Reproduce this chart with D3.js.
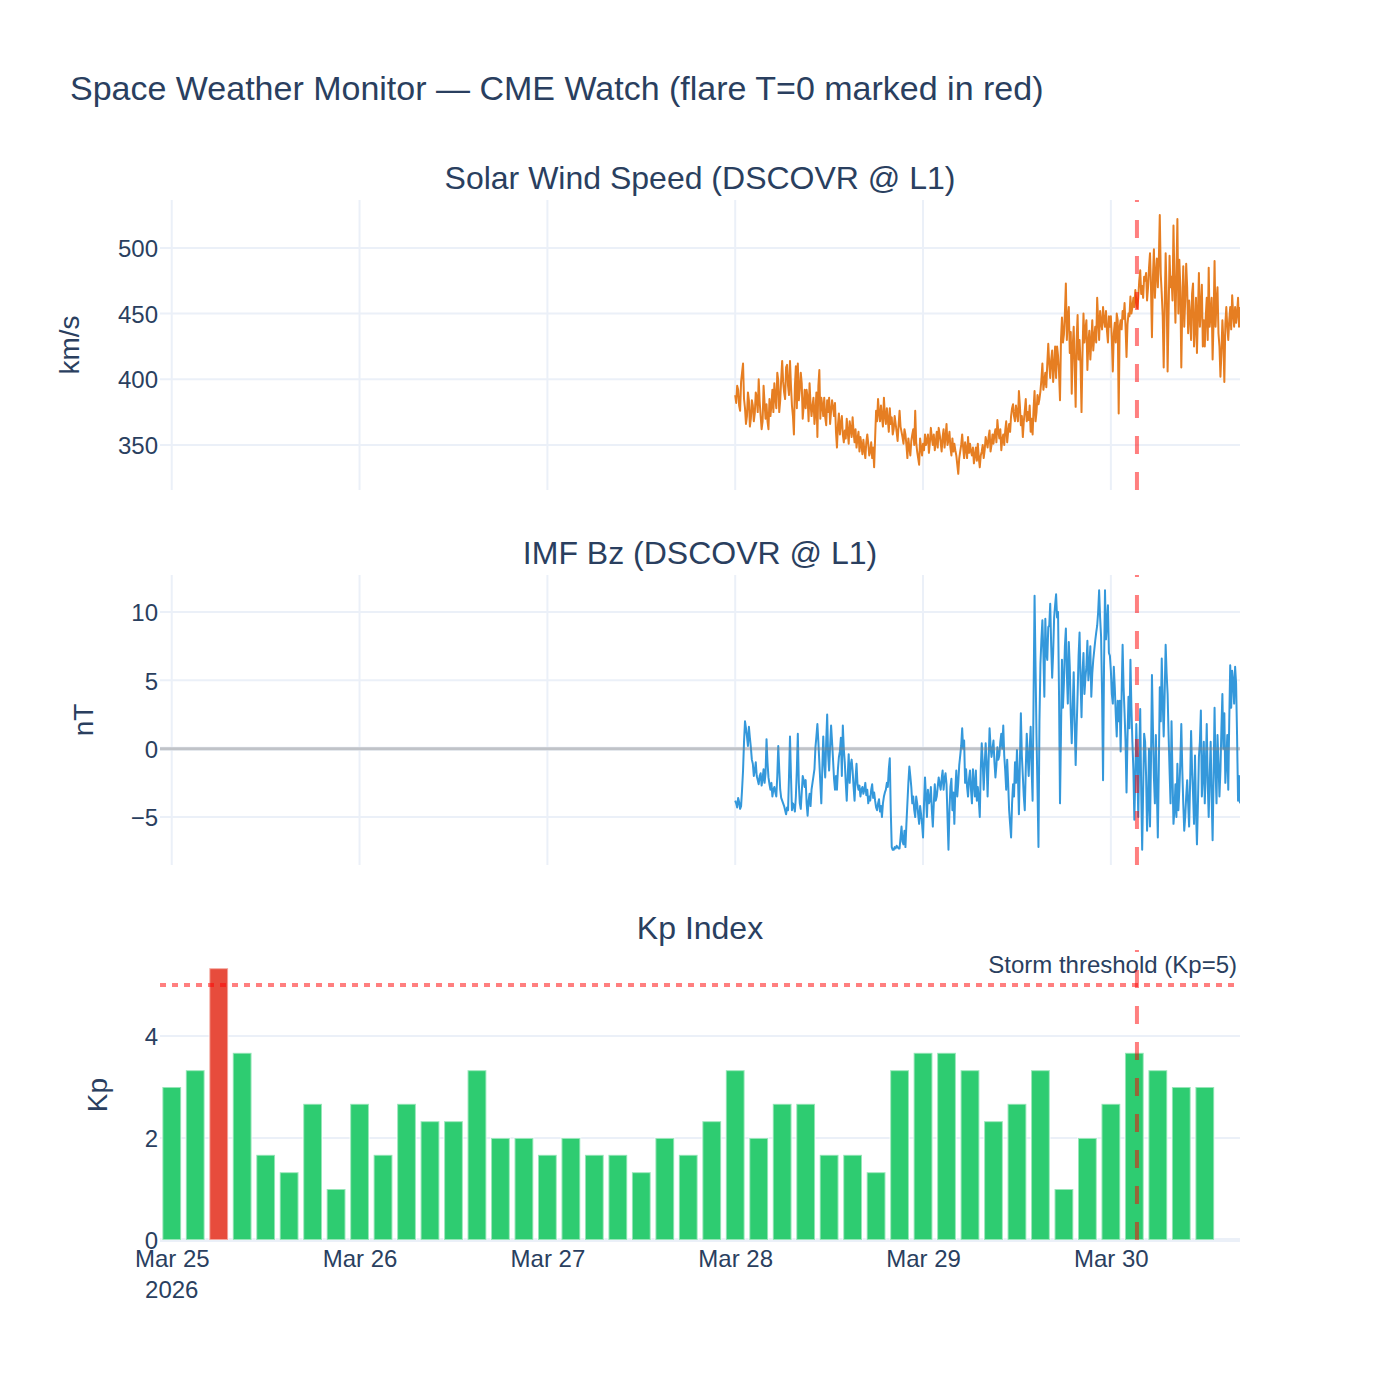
<!DOCTYPE html>
<html><head><meta charset="utf-8">
<script src="https://cdn.jsdelivr.net/npm/d3@7"></script>
<style>
body{margin:0;background:#fff}
text{font-family:"Liberation Sans",Arial,sans-serif;fill:#2a3f5f}
</style>
</head><body>
<svg id="chart" width="1400" height="1400"></svg>
<script>
// ---------------- DATA ----------------
const chartTitle = "Space Weather Monitor — CME Watch (flare T=0 marked in red)";
const panelTitles = ["Solar Wind Speed (DSCOVR @ L1)", "IMF Bz (DSCOVR @ L1)", "Kp Index"];
const axisTitles = ["km/s", "nT", "Kp"];
const xDomain = ["2026-03-24T22:30:00Z", "2026-03-30T16:30:00Z"];
const dayTicks = ["2026-03-25", "2026-03-26", "2026-03-27", "2026-03-28", "2026-03-29", "2026-03-30"];
const dayTickLabels = ["Mar 25", "Mar 26", "Mar 27", "Mar 28", "Mar 29", "Mar 30"];
const yearLabel = "2026";
const flareTime = "2026-03-30T03:20:00Z";
const stormThreshold = 5;
const stormLabel = "Storm threshold (Kp=5)";

const speedTicks = [350, 400, 450, 500];
const bzTicks = [-5, 0, 5, 10];
const kpTicks = [0, 2, 4];
const speedRange = [315.7, 536.5];
const bzRange = [-8.51, 12.71];
const kpRange = [0, 5.686];

// L1 series: samples every 15 minutes starting Mar 28 00:00 UTC,
// plus the readings taken half-way (7.5 min later) between them
const l1Start = "2026-03-28T00:00:00Z";
const l1StepMinutes = 15;
const windSpeed = [
388,395,380,398, 412,378,372,384, 370,380,374,386, 400,372,368,382,
381,362,372,392, 397,378,399,384, 414,390,409,395, 414,380,358,410,
412,392,397,380, 378,386,397,372, 386,375,356,407, 386,372,371,384,
386,376,379,382, 348,374,366,358, 361,370,351,362, 371,352,348,360,
356,343,346,352, 351,345,340,333, 376,385,368,371, 386,366,369,378,
371,362,366,353, 376,360,351,358, 340,348,353,362, 376,345,335,348,
351,358,353,344, 363,350,346,360, 363,352,356,348, 366,354,348,355,
351,342,328,345, 358,340,347,356, 351,342,336,348, 351,333,345,340,
356,348,361,350, 351,362,369,355, 346,358,361,352, 366,372,381,368,
374,391,365,356, 376,368,369,360, 358,391,375,381, 391,412,398,394,
427,401,422,410, 401,418,384,447, 434,473,447,420, 389,440,379,449,
430,375,450,438, 407,437,428,422, 440,462,430,443, 455,440,437,448,
448,406,443,450, 374,445,452,458, 417,450,463,455, 455,460,462,483,
471,478,481,470, 496,432,499,480, 470,525,465,409, 496,406,494,478,
517,443,522,491, 409,486,460,470, 460,430,473,440, 420,481,455,425,
425,462,485,450, 415,490,460,435, 402,445,398,455, 430,455,464,440,
443,462,455
];
const windSpeedMid = [
382,392,376,405, 385,366,390,364, 384,368,390,375, 383,362,395,370,
368,385,380,375, 386,405,375,400, 398,385,411,388, 395,372,395,378,
384,405,370,392, 392,368,381,380, 366,390,395,370, 380,386,365,375,
366,384,372,360, 365,358,372,352, 355,360,368,356, 360,362,355,345,
350,354,340,358, 342,352,348,355, 368,374,380,364, 372,378,360,366,
358,372,360,365, 364,356,362,350, 355,342,358,350, 352,340,355,342,
346,350,358,352, 355,358,352,348, 358,345,362,356, 350,360,342,345,
346,335,340,350, 348,352,340,344, 345,348,342,338, 340,342,350,346,
352,356,345,358, 358,352,360,362, 354,350,368,360, 360,378,372,380,
368,380,372,368, 385,375,380,370, 378,368,388,385, 400,392,405,412,
412,415,398,425, 425,405,430,428, 450,430,455,436, 425,410,430,415,
412,420,428,445, 428,415,445,432, 428,445,452,438, 445,452,428,440,
430,435,428,445, 440,438,446,440, 442,448,450,462, 468,454,475,465,
462,475,460,485, 470,478,462,492, 490,480,448,455, 465,450,470,460,
475,480,450,470, 455,440,488,435, 448,465,425,462, 450,440,472,445,
448,430,440,462, 445,440,470,425, 420,430,442,440, 445,438,450,455,
450,440
];
const bzValues = [
-3.8,-4.3,-3.9,-4.2, -1.6,2.0,0.9,1.6, 0.1,-1.1,-1.6,-2.0, -2.6,-1.8,-2.2,-2.5,
0.7,-2.1,-3.0,-3.5, -2.8,-3.5,0.2,-3.0, -3.8,-4.2,-4.8,-4.5, 0.9,-4.5,-4.2,-3.5,
1.1,-4.0,-3.2,-2.3, -2.3,-4.9,-3.3,-3.0, -2.0,0.1,1.8,-1.0, -4.0,0.9,-2.1,2.5,
-1.6,1.7,-0.8,-3.0, -3.0,-0.6,0.8,1.7, -1.0,-3.8,-0.4,-1.2, -1.6,-3.8,-1.1,-3.0,
-3.5,-2.8,-3.0,-3.4, -4.0,-3.8,-2.6,-3.2, -4.3,-4.0,-4.6,-5.0, -3.5,-3.0,-2.8,-0.7,
-7.2,-7.4,-7.3,-7.2, -7.3,-5.7,-7.0,-7.2, -4.0,-1.3,-2.8,-3.5, -5.0,-4.0,-5.5,-4.8,
-6.5,-2.1,-5.0,-4.0, -2.8,-5.7,-2.6,-3.5, -2.1,-3.0,-1.6,-2.2, -2.6,-7.4,-2.8,-4.5,
-5.5,-1.6,-2.5,-0.5, 1.5,0.6,-1.5,-3.5, -1.6,-4.0,-2.5,-1.6, -2.8,-5.0,0.4,-3.0,
0.4,-3.5,1.5,-0.6, 0.6,-2.1,0.1,-0.5, 1.1,1.7,-1.6,-0.8, -4.5,-6.5,-2.6,-1.0,
-0.1,-4.8,2.6,-2.0, -4.5,1.1,-2.0,1.6, -3.8,11.2,0.9,-7.2, 6.2,9.4,3.8,7.0,
8.9,10.6,5.2,9.6, 11.3,10.0,-4.0,6.5, 4.8,8.8,3.3,6.0, 0.4,5.6,-1.2,4.0,
8.5,2.3,7.0,5.2, 7.9,6.0,3.8,6.5, 7.9,9.0,11.6,8.2, -2.3,11.6,9.1,7.0,
5.7,3.3,4.5,0.9, 2.0,-0.2,7.6,2.6, -3.2,3.8,6.5,0.5, -5.2,1.8,-5.0,2.9,
-7.4,1.1,-2.0,-4.0, -5.7,5.4,-2.1,1.0, -6.5,4.5,6.6,0.9, 7.6,4.0,-1.6,2.0,
-5.5,-2.6,-1.1,-3.0, 1.8,-4.0,-5.0,-2.3, -5.7,1.3,-3.3,-0.5, -7.0,-0.6,2.8,-2.0,
-4.0,1.8,-5.0,0.5, -6.7,3.0,-4.0,-1.0, -1.6,4.0,2.6,-1.0, -3.0,6.1,5.7,3.3,
4.8,-3.8,-4.0
];
const bzValuesMid = [
-4.0,-3.6,-4.4,-3.0, 0.5,1.5,0.2,0.8, -0.8,-2.0,-1.0,-2.3, -2.0,-2.7,-1.5,-1.8,
-1.0,-2.6,-2.5,-3.0, -3.2,-2.0,-1.5,-3.6, -4.0,-4.5,-4.3,-2.0, -2.0,-4.0,-4.6,-1.5,
-2.5,-4.4,-2.0,-2.8, -4.0,-3.8,-4.2,-2.5, -1.5,0.9,0.5,-2.5, -1.5,-1.0,0.5,-0.5,
0.2,0.5,-2.2,-2.0, -1.5,-0.2,-2.0,0.0, -2.5,-2.0,-2.5,-0.8, -2.8,-2.2,-2.6,-2.7,
-3.0,-3.3,-2.5,-3.0, -3.5,-3.0,-3.6,-3.8, -4.5,-3.7,-4.2,-4.0, -3.2,-2.5,-1.5,-4.5,
-7.4,-7.2,-7.1,-7.3, -6.5,-6.8,-6.0,-5.5, -2.5,-2.0,-4.0,-4.5, -3.5,-4.8,-4.2,-5.5,
-4.0,-3.5,-3.0,-3.8, -4.5,-4.0,-3.8,-2.8, -2.6,-2.2,-3.0,-1.8, -5.0,-4.5,-2.2,-3.2,
-3.0,-3.5,-1.2,0.2, 0.0,-2.5,-2.8,-2.2, -3.0,-1.5,-3.5,-3.8, -3.8,-1.5,-1.0,-1.2,
-1.0,-1.0,0.2,0.0, -1.0,-1.2,-0.8,0.5, 0.0,-0.5,-3.0,-2.5, -5.5,-4.0,-3.5,-2.5,
-2.0,-1.0,-0.5,-3.5, -1.5,-0.5,0.0,-1.5, 4.0,6.0,-3.0,2.0, 8.0,7.0,9.5,6.5,
9.0,7.5,7.0,10.5, 9.6,4.0,1.0,3.0, 7.5,5.5,7.8,2.5, 3.0,2.0,1.5,6.8,
5.0,5.5,4.0,6.0, 5.0,7.5,5.5,7.2, 8.5,10.0,9.6,4.0, 6.0,8.0,10.5,6.8,
4.0,6.0,2.5,3.5, 3.5,4.0,4.5,0.5, 0.8,1.5,3.0,-1.5, -2.0,-1.0,-0.5,-3.0,
-3.0,0.5,-6.0,0.0, -1.0,1.5,-4.0,-3.0, -1.5,2.0,3.5,4.0, 5.5,1.0,-4.0,-2.0,
-4.5,-5.0,-4.5,-1.0, -1.5,-6.0,-3.5,-4.0, -2.5,-1.5,-5.5,-4.5, -4.0,0.5,-3.5,0.5,
-1.5,-2.5,-2.0,-3.5, -2.0,-1.5,1.0,-3.5, 1.5,0.0,-2.5,1.0, 2.0,3.0,5.0,6.0,
1.0,-2.0
];

// Kp: 3-hour bins starting Mar 25 00:00 UTC
const kpStart = "2026-03-25T00:00:00Z";
const kpStepHours = 3;
const kpValues = [
3.0,3.33,5.33,3.67,1.67,1.33,2.67,1.0,
2.67,1.67,2.67,2.33,2.33,3.33,2.0,2.0,
1.67,2.0,1.67,1.67,1.33,2.0,1.67,2.33,
3.33,2.0,2.67,2.67,1.67,1.67,1.33,3.33,
3.67,3.67,3.33,2.33,2.67,3.33,1.0,2.0,
2.67,3.67,3.33,3.0,3.0
];

// ---------------- STYLE / LAYOUT ----------------
const W = 1400, H = 1400;
const left = 160, right = 1240;
const panels = [{top:200,bottom:490},{top:575,bottom:865},{top:950,bottom:1240}];
const gridColor = "#EBF0F8";
const flareColor = "rgba(255,0,0,0.5)";

const svg = d3.select("#chart");
svg.append("rect").attr("width",W).attr("height",H).attr("fill","#fff");

const x = d3.scaleUtc().domain(xDomain.map(d=>new Date(d))).range([left,right]);
const yS = d3.scaleLinear().domain(speedRange).range([panels[0].bottom, panels[0].top]);
const yB = d3.scaleLinear().domain(bzRange).range([panels[1].bottom, panels[1].top]);
const yK = d3.scaleLinear().domain(kpRange).range([panels[2].bottom, panels[2].top]);
const yScales = [yS, yB, yK];
const yTickSets = [speedTicks, bzTicks, kpTicks];

const defs = svg.append("defs");
panels.forEach((p,i)=>{
  defs.append("clipPath").attr("id","clip"+i).append("rect")
    .attr("x",left).attr("y",p.top).attr("width",right-left).attr("height",p.bottom-p.top);
});

const t0 = new Date(l1Start).getTime();
const stepMs = l1StepMinutes*60000;
function buildSeries(main, mid){
  const out = [];
  main.forEach((v,i)=>{
    out.push({t:new Date(t0 + i*stepMs), v});
    if (i < mid.length) out.push({t:new Date(t0 + i*stepMs + stepMs/2), v:mid[i]});
  });
  return out;
}
const windSeries = buildSeries(windSpeed, windSpeedMid);
const bzSeries = buildSeries(bzValues, bzValuesMid);
const kt0 = new Date(kpStart).getTime();
const kpData = kpValues.map((v,i)=>({t:new Date(kt0 + i*kpStepHours*3600000), v}));
const dayDates = dayTicks.map(d=>new Date(d+"T00:00:00Z"));

// grids + y tick labels
panels.forEach((p,i)=>{
  const g = svg.append("g");
  if (i < 2) {
    g.selectAll("line.vx").data(dayDates).enter().append("line")
      .attr("x1",d=>x(d)).attr("x2",d=>x(d)).attr("y1",p.top).attr("y2",p.bottom)
      .attr("stroke",gridColor).attr("stroke-width",2);
  }
  const ys = yScales[i];
  g.selectAll("line.hy").data(yTickSets[i]).enter().append("line")
    .attr("x1",left).attr("x2",right).attr("y1",d=>ys(d)).attr("y2",d=>ys(d))
    .attr("stroke",gridColor).attr("stroke-width",d=>d===0?4:2);
  const ax = svg.append("g").attr("transform",`translate(${left-2},0)`)
    .call(d3.axisLeft(ys).tickValues(yTickSets[i]).tickSize(0).tickPadding(0)
      .tickFormat(d=>d<0?"\u2212"+Math.abs(d):String(d)));
  ax.select(".domain").remove();
  ax.selectAll("text").attr("font-size",24).attr("fill","#2a3f5f")
    .style("font-family","'Liberation Sans',Arial,sans-serif").attr("dy","0.36em");
});

// Kp bars
const barW = (x(new Date(kt0+kpStepHours*3600000)) - x(new Date(kt0))) * 0.8;
svg.append("g").attr("clip-path","url(#clip2)").selectAll("rect").data(kpData).enter().append("rect")
  .attr("x",d=>x(d.t)-barW/2).attr("width",barW)
  .attr("y",d=>yK(d.v)).attr("height",d=>yK(0)-yK(d.v))
  .attr("fill",d=>d.v>=stormThreshold?"#e74c3c":"#2ecc71")
  .attr("stroke","rgba(255,255,255,0.5)").attr("stroke-width",2);

// lines
const lineS = d3.line().x(d=>x(d.t)).y(d=>yS(d.v));
svg.append("path").attr("clip-path","url(#clip0)").datum(windSeries).attr("d",lineS)
  .attr("fill","none").attr("stroke","#e67e22").attr("stroke-width",2).attr("stroke-linejoin","round");
const lineB = d3.line().x(d=>x(d.t)).y(d=>yB(d.v));
svg.append("path").attr("clip-path","url(#clip1)").datum(bzSeries).attr("d",lineB)
  .attr("fill","none").attr("stroke","#3498db").attr("stroke-width",2).attr("stroke-linejoin","round");

// Bz zero reference
svg.append("line").attr("x1",left).attr("x2",right).attr("y1",yB(0)).attr("y2",yB(0))
  .attr("stroke","rgba(128,128,128,0.4)").attr("stroke-width",3);

// storm threshold
svg.append("line").attr("x1",left).attr("x2",right).attr("y1",yK(stormThreshold)).attr("y2",yK(stormThreshold))
  .attr("stroke",flareColor).attr("stroke-width",4).attr("stroke-dasharray","6,6");
svg.append("text").attr("x",right-3).attr("y",yK(stormThreshold)-12).attr("text-anchor","end")
  .attr("font-size",24).text(stormLabel);

// flare lines
const fx = x(new Date(flareTime));
panels.forEach(p=>{
  svg.append("line").attr("x1",fx).attr("x2",fx).attr("y1",p.bottom).attr("y2",p.top)
    .attr("stroke",flareColor).attr("stroke-width",4).attr("stroke-dasharray","18,18");
});

// x axis labels (bottom panel)
const xa = svg.append("g").attr("transform",`translate(0,${panels[2].bottom})`)
  .call(d3.axisBottom(x).tickValues(dayDates).tickSize(0).tickPadding(0).tickFormat((d,i)=>dayTickLabels[i]));
xa.select(".domain").remove();
xa.selectAll("text").attr("font-size",24).attr("fill","#2a3f5f").attr("dy",null).attr("y",27)
  .style("font-family","'Liberation Sans',Arial,sans-serif");
svg.append("text").attr("x",x(dayDates[0])).attr("y",panels[2].bottom+58).attr("text-anchor","middle")
  .attr("font-size",24).text(yearLabel);

// titles
svg.append("text").attr("x",70).attr("y",100).attr("font-size",34).text(chartTitle);
const titleBaselines = [189, 564, 939];
panels.forEach((p,i)=>{
  svg.append("text").attr("x",(left+right)/2).attr("y",titleBaselines[i]).attr("text-anchor","middle")
    .attr("font-size",32).text(panelTitles[i]);
});
const axisTitleX = [79, 92.5, 107];
panels.forEach((p,i)=>{
  const cy = (p.top+p.bottom)/2;
  svg.append("text").attr("transform",`translate(${axisTitleX[i]},${cy}) rotate(-90)`)
    .attr("text-anchor","middle").attr("font-size",28).text(axisTitles[i]);
});
</script>
</body></html>
